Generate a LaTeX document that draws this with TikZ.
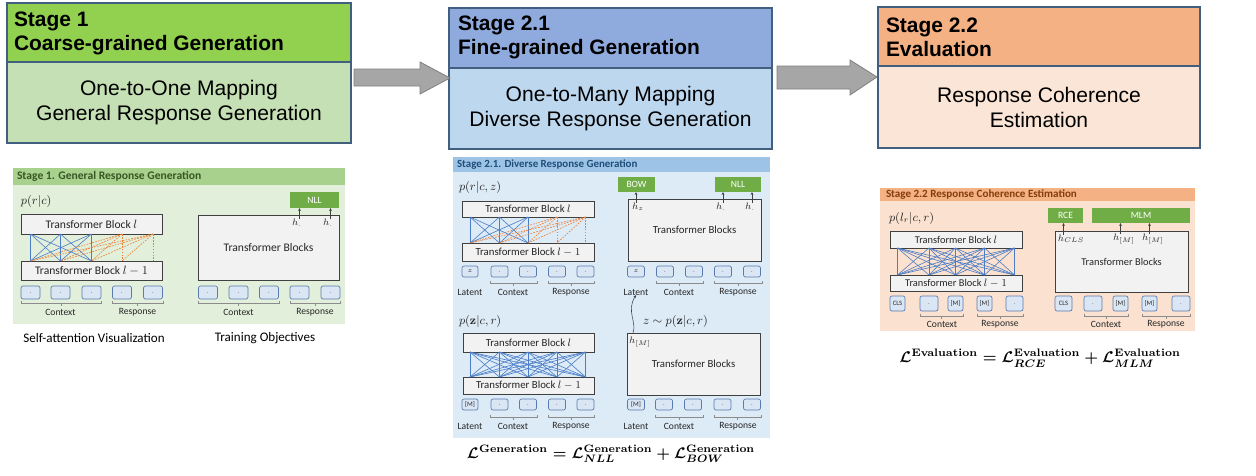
\documentclass[tikz,border=0pt]{standalone}
\usepackage[no-math]{fontspec}
\usepackage{amsmath}
\setmainfont{Liberation Sans}
\newfontfamily\calib{Carlito}
\usetikzlibrary{arrows.meta,calc}
\definecolor{frame}{HTML}{41607F}
\definecolor{sAh}{HTML}{92D050}
\definecolor{sAb}{HTML}{C5E0B4}
\definecolor{sBh}{HTML}{8FAADC}
\definecolor{sBb}{HTML}{BDD7EE}
\definecolor{sCh}{HTML}{F4B183}
\definecolor{sCb}{HTML}{FBE5D6}
\definecolor{pAbar}{HTML}{A9D18E}
\definecolor{pAbg}{HTML}{E2EFDA}
\definecolor{pAtx}{HTML}{375623}
\definecolor{pBbar}{HTML}{9DC3E6}
\definecolor{pBbg}{HTML}{DDEBF7}
\definecolor{pBtx}{HTML}{1F4E79}
\definecolor{pCbar}{HTML}{F4B183}
\definecolor{pCbg}{HTML}{FBE2D0}
\definecolor{pCtx}{HTML}{843C0C}
\definecolor{tbline}{HTML}{404040}
\definecolor{tbfill}{HTML}{F2F2F2}
\definecolor{tokline}{HTML}{5A7BAE}
\definecolor{tokfill}{HTML}{DAE6F4}
\definecolor{objg}{HTML}{70AD47}
\definecolor{attb}{HTML}{4A7CC7}
\definecolor{atto}{HTML}{ED7D31}
\definecolor{txt}{HTML}{262626}
\definecolor{brgray}{HTML}{8C8C8C}
\definecolor{arrfill}{HTML}{A6A6A6}
\definecolor{arrline}{HTML}{7F7F7F}
\newcommand\RB[7]{\node[#2, minimum width={(#5-#3)*0.75pt}, minimum height={(#6-#4)*0.75pt}] (#1) at ({(#3+#5)/2},{(#4+#6)/2}) {#7};}
\newcommand\TK[6]{\node[tok, minimum width={#4*0.75pt}, minimum height={#5*0.75pt}] (#1) at (#2,#3) {#6};}
\newcommand\BR[3]{\draw[brc] (#1,#3-2.5) -- (#1,#3) -- (#2,#3) -- (#2,#3-2.5); \draw[brc] ({(#1+#2)/2},#3) -- ({(#1+#2)/2},#3+2.5);}
\begin{document}
\begin{tikzpicture}[x=0.75pt,y=-0.75pt,
  every node/.style={inner sep=0pt,outer sep=0pt},
  hdr/.style={draw=frame,line width=0.9pt},
  bdy/.style={draw=frame,line width=0.9pt,align=center,font=\fontsize{15.8}{18.75}\selectfont},
  hdrtxt/.style={anchor=west,align=left,font=\bfseries\fontsize{15.7}{18}\selectfont},
  bigarrow/.style={draw=arrline,fill=arrfill,line width=0.6pt},
  ptitle/.style={anchor=west,font=\calib\bfseries\fontsize{8}{9}\selectfont},
  tb/.style={draw=tbline,fill=tbfill,line width=0.6pt,text=txt},
  tbA/.style={tb,font=\calib\fontsize{8.7}{10}\selectfont},
  tbB/.style={tb,font=\calib\fontsize{8.1}{10}\selectfont},
  tbC/.style={tb,font=\calib\fontsize{7.8}{10}\selectfont},
  tok/.style={draw=tokline,fill=tokfill,rounded corners=1.5pt,line width=0.5pt,text=txt,font=\calib\fontsize{5}{6}\selectfont},
  obj/.style={fill=objg,text=white,font=\calib\fontsize{7.2}{8}\selectfont},
  mlbl/.style={anchor=west,text=txt,font=\fontsize{9.2}{11}\selectfont},
  hlbl/.style={text=txt,font=\fontsize{7}{8}\selectfont},
  lbl/.style={text=txt,font=\calib\fontsize{7.2}{8}\selectfont},
  caption/.style={text=black,font=\calib\fontsize{9.8}{11}\selectfont},
  att/.style={draw=attb,line width=0.45pt},
  attd/.style={draw=atto,line width=0.45pt,dash pattern=on 1.3pt off 0.9pt},
  brc/.style={draw=brgray,line width=0.4pt},
  harr/.style={draw=tbline,line width=0.4pt,-{Stealth[length=2.2pt,width=2pt]}},
]
\useasboundingbox (0,0) rectangle (1256,475);
% ---------- stage boxes ----------
\RB{s1h}{hdr,fill=sAh}{7}{3}{351}{62}{}
\RB{s1b}{bdy,fill=sAb}{7}{62}{351}{143}{One-to-One Mapping\\General Response Generation}
\node[hdrtxt] (s1t) at (14,33) {Stage 1\\Coarse-grained Generation};
\RB{s2h}{hdr,fill=sBh}{449}{8}{772}{68}{}
\RB{s2b}{bdy,fill=sBb}{449}{68}{772}{149}{One-to-Many Mapping\\Diverse Response Generation}
\node[hdrtxt] (s2t) at (458,37) {Stage 2.1\\Fine-grained Generation};
\RB{s3h}{hdr,fill=sCh}{878}{7}{1200}{66}{}
\RB{s3b}{bdy,fill=sCb}{878}{66}{1200}{148}{Response Coherence\\Estimation}
\node[hdrtxt] (s3t) at (886,37) {Stage 2.2\\Evaluation};
% ---------- big arrows ----------
\draw[bigarrow] (354,69) -- (420,69) -- (420,62) -- (450,78) -- (420,94) -- (420,86) -- (354,86) -- cycle;
\draw[bigarrow] (777,66) -- (850,66) -- (850,60) -- (877,77) -- (850,95) -- (850,89) -- (777,89) -- cycle;
% ---------- panel 1 ----------
\RB{p1}{fill=pAbg}{13}{168}{345}{324}{}
\RB{p1bar}{fill=pAbar}{13}{168}{345}{185}{}
\node[ptitle,text=pAtx,font=\calib\bfseries\fontsize{8.7}{9}\selectfont] (p1t) at (17,176.5) {Stage 1. General Response Generation};
\node[mlbl] (p1m) at (21,201) {$p(r|c)$};
\foreach \n/\x in {1/30.5,2/60.5,3/91.5,4/122,5/153}{\TK{p1a\n}{\x}{292.5}{19}{13}{$\cdot$}}
\foreach \n/\x in {1/208,2/238.5,3/269,4/299.5,5/330.5}{\TK{p1b\n}{\x}{292.5}{19}{13}{$\cdot$}}
\RB{p1l}{tbA}{21}{214}{162}{234}{Transformer Block $l$}
\RB{p1lm}{tbA}{21}{261}{162}{280}{Transformer Block $l-1$}
\foreach \n in {1,...,5}{\coordinate (p1u\n) at (p1a\n |- p1l.south); \coordinate (p1d\n) at (p1a\n |- p1lm.north);}
\foreach \i in {1,2,3}{\foreach \j in {1,2,3}{\draw[att] (p1u\i) -- (p1d\j);}}
\foreach \i in {4,5}{\foreach \j in {1,...,\i}{\draw[attd] (p1u\i) -- (p1d\j);}}
\RB{p1R}{tbA}{198}{215}{339}{280}{Transformer Blocks}
\RB{p1nll}{obj}{290}{192}{339}{208}{NLL}
\node[hlbl] (p1h1) at (297,223) {$h_{.}$};
\node[hlbl] (p1h2) at (328,223) {$h_{.}$};
\draw[harr] (p1h1.north -| p1b4) -- (p1b4 |- p1nll.south);
\draw[harr] (p1h2.north -| p1b5) -- (p1b5 |- p1nll.south);
\BR{21}{101}{303}\BR{112}{163}{303}\BR{198}{279}{303}\BR{290}{340}{303}
\node[lbl] (p1c1) at (60.5,312) {Context};
\node[lbl] (p1r1) at (137.5,312) {Response};
\node[lbl] (p1c2) at (238.5,312) {Context};
\node[lbl] (p1r2) at (315,312) {Response};
\node[caption] (cap1) at (94,338) {Self-attention Visualization};
\node[caption] (cap2) at (265,338) {Training Objectives};
% ---------- panel 2.1 ----------
\RB{p2}{fill=pBbg}{453}{157}{770}{438}{}
\RB{p2bar}{fill=pBbar}{453}{157}{770}{172}{}
\node[ptitle,text=pBtx,font=\calib\bfseries\fontsize{8.2}{9}\selectfont] (p2t) at (457,164.5) {Stage 2.1. Diverse Response Generation};
\node[mlbl] (p2m1) at (459,187) {$p(r|c,z)$};
\TK{p2a1}{470}{271.5}{16}{11}{$z$}
\foreach \n/\x in {2/499.5,3/528,4/557,5/585.5}{\TK{p2a\n}{\x}{271.5}{17}{11}{$\cdot$}}
\TK{p2b1}{636}{271.5}{17}{11}{$z$}
\foreach \n/\x in {2/665,3/694,4/723,5/752}{\TK{p2b\n}{\x}{271.5}{17}{11}{$\cdot$}}
\RB{p2l}{tbB}{462}{201}{594}{217}{Transformer Block $l$}
\RB{p2lm}{tbB}{462}{243}{594}{261}{Transformer Block $l-1$}
\foreach \n in {1,...,5}{\coordinate (p2u\n) at (p2a\n |- p2l.south); \coordinate (p2d\n) at (p2a\n |- p2lm.north);}
\foreach \i in {1,2,3}{\foreach \j in {1,2,3}{\draw[att] (p2u\i) -- (p2d\j);}}
\foreach \i in {4,5}{\foreach \j in {1,...,\i}{\draw[attd] (p2u\i) -- (p2d\j);}}
\RB{p2R}{tbB}{628}{199}{761}{261}{Transformer Blocks}
\RB{p2bow}{obj}{618}{177}{655}{192}{BOW}
\RB{p2nll}{obj}{715}{177}{761}{192}{NLL}
\node[hlbl] (p2hz) at (638,207) {$h_{z}$};
\node[hlbl] (p2h1) at (721,207) {$h_{.}$};
\node[hlbl] (p2h2) at (750,207) {$h_{.}$};
\draw[harr] (p2hz.north -| p2b1) -- (p2b1 |- p2bow.south);
\draw[harr] (p2h1.north -| p2b4) -- (p2b4 |- p2nll.south);
\draw[harr] (p2h2.north -| p2b5) -- (p2b5 |- p2nll.south);
\BR{490}{537}{283}\BR{548}{594}{283}\BR{656}{703}{283}\BR{714}{762}{283}
\node[lbl] (p2lat1) at (470,292) {Latent};
\node[lbl] (p2c1) at (513,292) {Context};
\node[lbl] (p2r1) at (571,292) {Response};
\node[lbl] (p2lat2) at (636,292) {Latent};
\node[lbl] (p2c2) at (679,292) {Context};
\node[lbl] (p2r2) at (738,292) {Response};
% bottom half
\node[mlbl] (p2m2) at (459,321) {$p(\mathbf{z}|c,r)$};
\node[mlbl] (p2m3) at (643,321) {$z\sim p(\mathbf{z}|c,r)$};
\TK{p2e1}{470}{404.5}{16}{11}{[M]}
\foreach \n/\x in {2/499.5,3/528,4/557,5/585.5}{\TK{p2e\n}{\x}{404.5}{17}{11}{$\cdot$}}
\TK{p2f1}{636}{404.5}{17}{11}{[M]}
\foreach \n/\x in {2/664,3/693,4/722.5,5/752}{\TK{p2f\n}{\x}{404.5}{17}{11}{$\cdot$}}
\RB{p2L}{tbB}{463}{333}{594}{352}{Transformer Block $l$}
\RB{p2Lm}{tbB}{463}{377}{594}{394}{Transformer Block $l-1$}
\foreach \n in {1,...,5}{\coordinate (p2U\n) at (p2e\n |- p2L.south); \coordinate (p2D\n) at (p2e\n |- p2Lm.north);}
\foreach \i in {1,...,5}{\foreach \j in {1,...,5}{\draw[att] (p2U\i) -- (p2D\j);}}
\RB{p2R2}{tbB}{627}{333}{760}{395}{Transformer Blocks}
\node[hlbl] (p2hm) at (640,342) {$h_{[M]}$};
\draw[line width=0.4pt,draw=tbline,-{Stealth[length=2.2pt,width=2pt]}] (p2R2.north -| 633,0) .. controls (637,322) and (626,311) .. (p2lat2.south);
\BR{490}{537}{417}\BR{548}{594}{417}\BR{655}{703}{417}\BR{714}{761}{417}
\node[lbl] (p2lat3) at (470,426) {Latent};
\node[lbl] (p2c3) at (513,426) {Context};
\node[lbl] (p2r3) at (571,426) {Response};
\node[lbl] (p2lat4) at (636,426) {Latent};
\node[lbl] (p2c4) at (679,426) {Context};
\node[lbl] (p2r4) at (738,426) {Response};
\node (f1) at (611,454) {\resizebox{216pt}{!}{\boldmath$\mathcal{L}^{\mathbf{Generation}}=\mathcal{L}^{\mathbf{Generation}}_{NLL}+\mathcal{L}^{\mathbf{Generation}}_{BOW}$}};
% ---------- panel 2.2 ----------
\RB{p3}{fill=pCbg}{880}{188}{1195}{331}{}
\RB{p3bar}{fill=pCbar}{880}{188}{1195}{201}{}
\node[ptitle,text=pCtx,font=\calib\bfseries\fontsize{8.3}{9}\selectfont] (p3t) at (886,194.5) {Stage 2.2 Response Coherence Estimation};
\node[mlbl] (p3m) at (889,218) {$p(l_r|c,r)$};
\TK{p3a1}{897.5}{303.5}{15}{15}{CLS}
\TK{p3a2}{929}{303.5}{18}{15}{$\cdot$}
\TK{p3a3}{955.5}{303.5}{15}{15}{[M]}
\TK{p3a4}{984.5}{303.5}{15}{15}{[M]}
\TK{p3a5}{1014.5}{303.5}{17}{15}{$\cdot$}
\TK{p3b1}{1063.5}{303.5}{17}{15}{CLS}
\TK{p3b2}{1093}{303.5}{18}{15}{$\cdot$}
\TK{p3b3}{1120.5}{303.5}{15}{15}{[M]}
\TK{p3b4}{1149.5}{303.5}{15}{15}{[M]}
\TK{p3b5}{1181}{303.5}{18}{15}{$\cdot$}
\RB{p3l}{tbC}{890}{231}{1022}{248}{Transformer Block $l$}
\RB{p3lm}{tbC}{890}{275}{1022}{291}{Transformer Block $l-1$}
\foreach \n in {1,...,5}{\coordinate (p3u\n) at (p3a\n |- p3l.south); \coordinate (p3d\n) at (p3a\n |- p3lm.north);}
\foreach \i in {1,...,5}{\foreach \j in {1,...,5}{\draw[att] (p3u\i) -- (p3d\j);}}
\RB{p3R}{tbC}{1055}{231}{1188}{292}{Transformer Blocks}
\RB{p3rce}{obj}{1048}{208}{1083}{223}{RCE}
\RB{p3mlm}{obj}{1092}{208}{1190}{223}{MLM}
\node[hlbl] (p3hc) at (1071,239) {$h_{CLS}$};
\node[hlbl] (p3h1) at (1124,239) {$h_{[M]}$};
\node[hlbl] (p3h2) at (1153,239) {$h_{[M]}$};
\draw[harr] (p3hc.north -| p3b1) -- (p3b1 |- p3rce.south);
\draw[harr] (p3h1.north -| p3b3) -- (p3b3 |- p3mlm.south);
\draw[harr] (p3h2.north -| p3b4) -- (p3b4 |- p3mlm.south);
\BR{920}{963}{316}\BR{977}{1023}{316}\BR{1084}{1128}{316}\BR{1142}{1190}{316}
\node[lbl] (p3c1) at (942,324) {Context};
\node[lbl] (p3r1) at (1000,324) {Response};
\node[lbl] (p3c2) at (1106,324) {Context};
\node[lbl] (p3r2) at (1166,324) {Response};
\node (f2) at (1040,358) {\resizebox{211pt}{!}{\boldmath$\mathcal{L}^{\mathbf{Evaluation}}=\mathcal{L}^{\mathbf{Evaluation}}_{RCE}+\mathcal{L}^{\mathbf{Evaluation}}_{MLM}$}};
\end{tikzpicture}
\end{document}
